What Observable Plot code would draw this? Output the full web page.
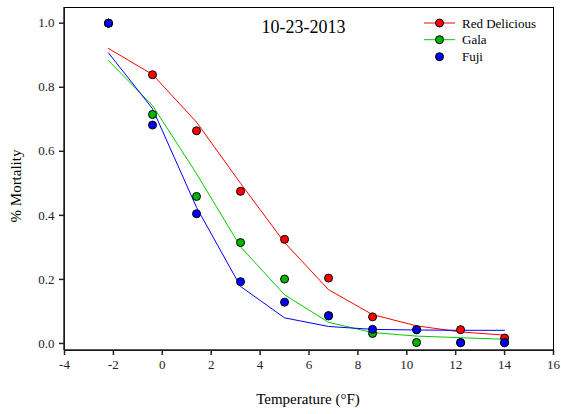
<!DOCTYPE html>
<html>
<head>
<meta charset="utf-8">
<script src="https://cdn.jsdelivr.net/npm/d3@7"></script>
<script src="https://cdn.jsdelivr.net/npm/@observablehq/plot@0.6"></script>
<style>
  html, body { margin: 0; padding: 0; background: #fff; }
  svg { display: block; }
  svg text { font-family: "Liberation Serif", "Times New Roman", serif !important; }
</style>
</head>
<body>
<div id="chart"></div>
<script>
// Temperatures (°F)
const temps = [-2.2, -0.4, 1.4, 3.2, 5.0, 6.8, 8.6, 10.4, 12.2, 14.0];
// Observed mortality
const redObs   = [1.0, 0.839, 0.664, 0.475, 0.325, 0.204, 0.083, 0.043, 0.043, 0.017];
const galaObs  = [1.0, 0.715, 0.459, 0.315, 0.201, 0.087, 0.031, 0.003, 0.003, 0.003];
const fujiObs  = [1.0, 0.682, 0.405, 0.193, 0.129, 0.086, 0.044, 0.043, 0.002, 0.002];
// Fitted curves
const redFit   = [0.921, 0.840, 0.691, 0.500, 0.315, 0.168, 0.090, 0.055, 0.036, 0.026];
const galaFit  = [0.883, 0.743, 0.530, 0.302, 0.152, 0.066, 0.034, 0.023, 0.018, 0.013];
const fujiFit  = [0.907, 0.733, 0.425, 0.178, 0.080, 0.053, 0.044, 0.042, 0.041, 0.041];

const cultivars = ["Red Delicious", "Gala", "Fuji"];
const dotColors = ["#ff0000", "#00b400", "#0000ff"];
const lineColors = ["#ff0000", "#00cc00", "#0000ff"];
const xTicks = [-4, -2, 0, 2, 4, 6, 8, 10, 12, 14, 16];
const yTicks = [0, 0.2, 0.4, 0.6, 0.8, 1.0];

const obs = [redObs, galaObs, fujiObs];
const fits = [redFit, galaFit, fujiFit];

const obsData = [];
const fitData = [];
cultivars.forEach((c, i) => {
  temps.forEach((t, j) => {
    obsData.push({cultivar: c, temp: t, value: obs[i][j]});
    fitData.push({cultivar: c, temp: t, value: fits[i][j]});
  });
});

const font = "Liberation Serif, Times New Roman, serif";

const plot = Plot.plot({
  width: 561,
  height: 414,
  marginLeft: 64,
  marginRight: 8,
  marginTop: 7,
  marginBottom: 64,
  style: {fontFamily: font, fontSize: "13px", color: "#222", background: "#fff"},
  x: {domain: [-4, 16], ticks: xTicks, tickFormat: d => String(d), label: null},
  y: {domain: [-0.022, 1.049], ticks: yTicks, tickFormat: d => d.toFixed(1), label: null},
  marks: [
    Plot.frame({stroke: "#000", strokeWidth: 1}),
    Plot.axisX({ticks: xTicks, tickFormat: d => String(d), tickSize: 5, tickPadding: 4, stroke: "#222", strokeWidth: 1.5, fill: "#222", fontSize: 13, label: null}),
    Plot.axisY({ticks: yTicks, tickFormat: d => d.toFixed(1), tickSize: 5, tickPadding: 5, stroke: "#222", strokeWidth: 1.5, fill: "#222", fontSize: 13, label: null}),
    Plot.line(fitData, {x: "temp", y: "value", z: "cultivar", stroke: d => lineColors[cultivars.indexOf(d.cultivar)], strokeWidth: 1}),
    Plot.dot(obsData, {x: "temp", y: "value", r: 4, fill: d => dotColors[cultivars.indexOf(d.cultivar)], stroke: "#000", strokeWidth: 1})
  ]
});

const svg = d3.select(plot);
// Heavier left and bottom axis lines
svg.append("line").attr("x1", 64).attr("x2", 553).attr("y1", 350).attr("y2", 350).attr("stroke", "#222").attr("stroke-width", 1.5);
svg.append("line").attr("x1", 64).attr("x2", 64).attr("y1", 7).attr("y2", 350).attr("stroke", "#222").attr("stroke-width", 1.5);

// Title
svg.append("text").attr("x", 303.5).attr("y", 33).attr("text-anchor", "middle")
  .attr("font-size", 18).attr("fill", "#000").text("10-23-2013");

// Axis titles
svg.append("text").attr("x", 308).attr("y", 404).attr("text-anchor", "middle")
  .attr("font-size", 15).attr("fill", "#000").text("Temperature (°F)");
svg.append("text").attr("transform", "translate(21,186) rotate(-90)").attr("text-anchor", "middle")
  .attr("font-size", 15).attr("fill", "#000").text("% Mortality");

// Legend
const legendRows = [23, 39.7, 56.7];
cultivars.forEach((c, i) => {
  const g = svg.append("g");
  if (i < 2) {
    g.append("line").attr("x1", 424).attr("x2", 455).attr("y1", legendRows[i]).attr("y2", legendRows[i])
      .attr("stroke", lineColors[i]).attr("stroke-width", 1);
  }
  g.append("circle").attr("cx", 439.5).attr("cy", legendRows[i]).attr("r", 4)
    .attr("fill", dotColors[i]).attr("stroke", "#000").attr("stroke-width", 1);
  g.append("text").attr("x", 462).attr("y", legendRows[i] + 4.5).attr("text-anchor", "start")
    .attr("font-size", 13).attr("fill", "#000").text(c);
});

document.getElementById("chart").appendChild(plot);
</script>
</body>
</html>
